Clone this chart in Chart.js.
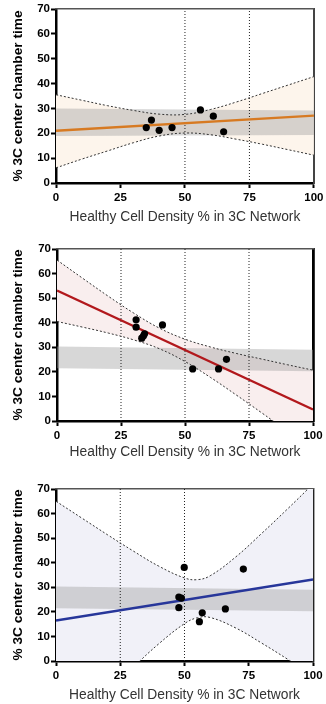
<!DOCTYPE html>
<html><head><meta charset="utf-8">
<script src="https://cdn.jsdelivr.net/npm/chart.js@4.4.1/dist/chart.umd.min.js"></script>
<style>
html,body{margin:0;padding:0;background:#fff;width:326px;height:704px;overflow:hidden}
.p{position:absolute;left:0;width:326px}
</style></head><body>
<div class="p" style="top:0;height:230px"><canvas id="c1"></canvas></div>
<div class="p" style="top:230px;height:235px"><canvas id="c2"></canvas></div>
<div class="p" style="top:465px;height:239px"><canvas id="c3"></canvas></div>
<script>
// ---- shared labels / ticks ----
const xTickStep = 25;
const yTickStep = 10;
const xRange = [0, 100];
const yRange = [0, 70];
const xTitle = 'Healthy Cell Density % in 3C Network';
const yTitle = '% 3C center chamber time';

// ---- Panel 1 (orange) ----
const p1X = [35, 37, 40, 45, 56, 61, 65];
const p1Y = [22.3, 25.3, 21.2, 22.3, 29.4, 26.9, 20.6];
const p1FitX = [0, 100];
const p1FitY = [21.0, 27.1];
const p1CiX  = [0, 10, 20, 30, 40, 50, 60, 70, 80, 90, 100];
const p1CiUp = [35.5, 33.3, 31.1, 29.2, 27.7, 27.6, 29.6, 32.6, 36.0, 39.4, 42.8];
const p1CiLo = [6.1, 9.6, 12.9, 16.2, 18.9, 20.1, 19.4, 17.6, 15.6, 13.4, 11.2];
const p1BandX = [0, 100];
const p1BandUp = [30.0, 29.2];
const p1BandLo = [18.9, 19.3];
const p1VLines = [50, 75];

// ---- Panel 2 (red) ----
const p2X = [30.9, 30.9, 33.1, 33.8, 34.2, 41.2, 53.0, 63.1, 66.2];
const p2Y = [41.2, 38.2, 33.7, 34.7, 35.5, 39.1, 21.2, 21.2, 25.1];
const p2FitX = [0, 100];
const p2FitY = [53.1, 4.7];
const p2CiX  = [0, 10, 20, 30, 40, 50, 60, 70, 80, 90, 100];
const p2CiUp = [65.5, 58.1, 50.8, 43.9, 37.8, 33.3, 30.1, 27.5, 25.2, 22.9, 20.7];
const p2CiLo = [40.5, 38.2, 35.8, 33.0, 29.4, 24.2, 17.7, 10.6, 3.3, -4.2, -11.7];
const p2BandX = [0, 100];
const p2BandUp = [30.3, 29.0];
const p2BandLo = [21.5, 20.2];
const p2VLines = [25, 50, 75];

// ---- Panel 3 (blue) ----
const p3X = [49.9, 47.8, 48.8, 47.8, 56.9, 55.8, 65.9, 72.9];
const p3Y = [38.1, 26.0, 25.6, 21.7, 19.6, 16.0, 21.2, 37.4];
const p3FitX = [0, 100];
const p3FitY = [16.5, 33.2];
const p3CiX  = [0, 10, 20, 30, 40, 50, 55, 60, 70, 80, 90, 100];
const p3CiUp = [65.0, 58.2, 51.4, 44.8, 38.6, 33.8, 33.1, 34.7, 42.4, 51.9, 61.8, 72.0];
const p3CiLo = [-33.0, -22.8, -12.6, -2.6, 7.0, 15.2, 17.6, 17.7, 13.4, 7.3, 0.8, -6.0];
const p3BandX = [0, 100];
const p3BandUp = [30.3, 29.0];
const p3BandLo = [21.5, 20.2];
const p3VLines = [25, 50];

Chart.defaults.font.family = '"Liberation Sans", Arial, sans-serif';
Chart.defaults.color = '#000';

const xy = (xs, ys) => xs.map((x, i) => ({x: x, y: ys[i]}));

function build(id, d, L) {
  const ds = [];
  ds.push({data: xy(d.px, d.py), showLine: false, pointRadius: 3.6, pointHoverRadius: 3.6,
           pointBackgroundColor: '#000', pointBorderColor: '#000', pointBorderWidth: 0, order: 0});
  ds.push({data: xy(d.fx, d.fy), borderColor: d.fitColor, borderWidth: 2.4, pointRadius: 0, order: 1});
  ds.push({data: xy(d.cx, d.cu), borderColor: '#333', borderWidth: 1, borderDash: [2, 2],
           pointRadius: 0, tension: 0.4, order: 2});
  ds.push({data: xy(d.cx, d.cl), borderColor: '#333', borderWidth: 1, borderDash: [2, 2],
           pointRadius: 0, tension: 0.4, order: 2});
  d.vl.forEach(v => ds.push({data: [{x: v, y: yRange[0]}, {x: v, y: yRange[1]}],
           borderColor: '#222', borderWidth: 1, borderDash: [1, 2], pointRadius: 0, order: 3}));
  ds.push({data: xy(d.cx, d.cu), borderWidth: 0, borderColor: 'transparent', pointRadius: 0, tension: 0.4, order: 5});
  ds.push({data: xy(d.cx, d.cl), borderWidth: 0, borderColor: 'transparent', pointRadius: 0, tension: 0.4,
           fill: '-1', backgroundColor: d.ciFill, order: 5});
  ds.push({data: xy(d.bx, d.bu), borderWidth: 0, borderColor: 'transparent', pointRadius: 0, order: 4});
  ds.push({data: xy(d.bx, d.bl), borderWidth: 0, borderColor: 'transparent', pointRadius: 0,
           fill: '-1', backgroundColor: 'rgba(160,160,160,0.42)', order: 4});

  return new Chart(document.getElementById(id), {
    type: 'line',
    data: {datasets: ds},
    options: {
      responsive: true, maintainAspectRatio: false, animation: false, devicePixelRatio: 1,
      layout: {padding: {top: L.top, right: L.right, left: 0, bottom: 0}},
      plugins: {legend: {display: false}, tooltip: {enabled: false}},
      scales: {
        x: {type: 'linear', position: 'bottom', min: xRange[0], max: xRange[1],
            ticks: {stepSize: xTickStep, padding: 2.5, font: {size: 11.5, weight: 'bold'}, color: '#000', maxRotation: 0},
            grid: {drawOnChartArea: false, drawTicks: true, tickLength: 5, tickWidth: 2, tickColor: '#000'},
            border: {display: true, color: '#000', width: 2.5},
            title: {display: true, text: xTitle, color: '#333', font: {size: 13.8, weight: 'normal'},
                    padding: {top: 0, bottom: L.titleBottom}},
            afterFit: s => { s.height = L.axisH; }},
        y: {type: 'linear', position: 'left', min: yRange[0], max: yRange[1],
            ticks: {stepSize: yTickStep, padding: 1, font: {size: 11.5, weight: 'bold'}, color: '#000'},
            grid: {drawOnChartArea: false, drawTicks: true, tickLength: 5, tickWidth: 2, tickColor: '#000'},
            border: {display: true, color: '#000', width: 2.5},
            title: {display: true, text: yTitle, color: '#000', font: {size: 13.7, weight: 'bold'},
                    padding: {top: 10, bottom: 0}},
            afterFit: s => { s.width = L.left; }},
        yR: {type: 'linear', position: 'right', min: yRange[0], max: yRange[1], display: true,
             ticks: {display: false}, grid: {display: false, drawTicks: false},
             border: {display: true, color: L.rightColor, width: L.rightW},
             afterFit: s => { s.width = 0; }},
        xT: {type: 'linear', position: 'top', min: xRange[0], max: xRange[1], display: true,
             ticks: {display: false}, grid: {display: false, drawTicks: false},
             border: {display: true, color: '#555', width: 1.5},
             afterFit: s => { s.height = 0; }}
      }
    }
  });
}

build('c1', {px: p1X, py: p1Y, fx: p1FitX, fy: p1FitY, cx: p1CiX, cu: p1CiUp, cl: p1CiLo,
             bx: p1BandX, bu: p1BandUp, bl: p1BandLo, vl: p1VLines,
             fitColor: '#d77a22', ciFill: '#fdf5ec'},
        {top: 9, right: 11, left: 56, axisH: 47, titleBottom: 4.5, rightColor: '#444', rightW: 2});
build('c2', {px: p2X, py: p2Y, fx: p2FitX, fy: p2FitY, cx: p2CiX, cu: p2CiUp, cl: p2CiLo,
             bx: p2BandX, bu: p2BandUp, bl: p2BandLo, vl: p2VLines,
             fitColor: '#b2181c', ciFill: '#f9eeee'},
        {top: 19, right: 13, left: 57, axisH: 44, titleBottom: 4.5, rightColor: '#000', rightW: 2.8});
build('c3', {px: p3X, py: p3Y, fx: p3FitX, fy: p3FitY, cx: p3CiX, cu: p3CiUp, cl: p3CiLo,
             bx: p3BandX, bu: p3BandUp, bl: p3BandLo, vl: p3VLines,
             fitColor: '#27369a', ciFill: '#f1f1f8'},
        {top: 24, right: 13, left: 56, axisH: 43, titleBottom: 0.6, rightColor: '#222', rightW: 2.4});
</script>
</body></html>
